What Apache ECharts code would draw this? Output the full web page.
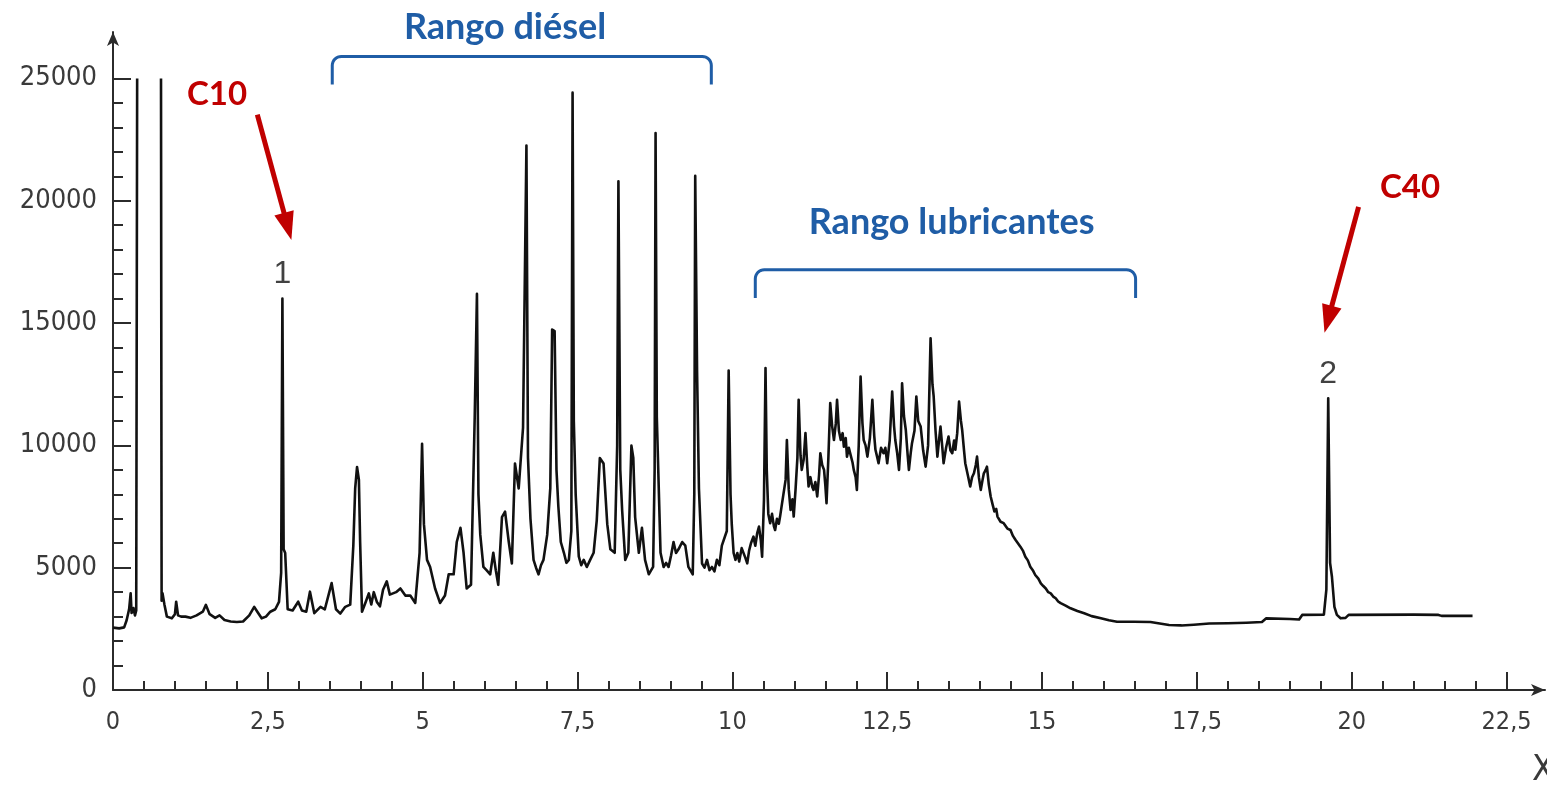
<!DOCTYPE html>
<html>
<head>
<meta charset="utf-8">
<script src="https://cdn.jsdelivr.net/npm/echarts@6/dist/echarts.min.js"></script>
<style>
  html, body { margin: 0; padding: 0; background: #fff; }
  #chart { width: 1547px; height: 785px; }
</style>
</head>
<body>
<div id="chart"></div>
<script>
// Retention time (min) and detector signal of the chromatogram trace.
// A '-' signal breaks the line where the solvent peak runs off scale.
const trace = [
  [0.00,2550],[0.10,2520],[0.18,2560],[0.22,2850],[0.26,3300],[0.285,3950],[0.30,3150],[0.33,3350],
  [0.355,3050],[0.375,3250],[0.39,25000],[0.58,'-'],[0.775,25000],[0.785,3650],[0.80,3950],[0.83,3500],
  [0.87,3000],[0.95,2930],[1.00,3100],[1.02,3610],[1.05,3050],[1.10,3000],[1.17,3000],[1.25,2950],
  [1.35,3050],[1.45,3200],[1.50,3480],[1.56,3100],[1.65,2950],[1.72,3050],[1.80,2860],[1.90,2800],
  [2.00,2780],[2.10,2800],[2.20,3050],[2.28,3400],[2.33,3200],[2.40,2930],[2.47,3000],[2.54,3200],
  [2.62,3300],[2.68,3600],[2.715,4800],[2.735,16000],[2.755,5750],[2.78,5600],[2.82,3300],[2.90,3250],
  [2.99,3610],[3.05,3250],[3.12,3200],[3.18,4020],[3.25,3140],[3.35,3400],[3.42,3300],[3.53,4370],
  [3.60,3300],[3.67,3125],[3.75,3400],[3.83,3490],[3.88,5900],[3.91,8240],[3.94,9115],[3.97,8600],
  [3.99,6050],[4.02,3200],[4.08,3600],[4.13,3950],[4.17,3500],[4.21,4000],[4.26,3600],[4.31,3420],
  [4.36,4100],[4.42,4440],[4.47,3900],[4.50,3860],[4.57,4000],[4.64,4150],[4.72,3860],[4.80,3860],
  [4.88,3560],[4.95,5610],[4.99,10070],[5.02,6780],[5.07,5320],[5.12,5030],[5.20,4150],[5.28,3560],
  [5.36,3860],[5.42,4730],[5.50,4730],[5.55,6050],[5.61,6630],[5.66,5610],[5.71,4150],[5.78,4300],
  [5.84,11160],[5.876,16200],[5.90,8000],[5.93,6340],[5.98,5030],[6.03,4900],[6.09,4730],[6.14,5610],
  [6.18,4900],[6.22,4300],[6.28,7070],[6.33,7290],[6.39,6050],[6.44,5170],[6.49,9260],[6.55,8240],
  [6.62,10720],[6.675,22260],[6.70,9500],[6.74,7000],[6.79,5320],[6.83,5000],[6.87,4730],[6.91,5100],
  [6.95,5320],[7.01,6340],[7.06,8240],[7.09,14740],[7.13,14670],[7.16,9000],[7.19,7510],[7.23,6050],
  [7.28,5610],[7.32,5200],[7.36,5320],[7.40,6500],[7.42,24420],[7.44,11000],[7.47,8000],[7.52,5460],
  [7.56,5100],[7.60,5320],[7.65,5030],[7.70,5300],[7.76,5610],[7.81,6920],[7.86,9480],[7.92,9260],
  [7.98,6780],[8.03,5750],[8.10,5610],[8.14,9990],[8.16,20800],[8.19,9000],[8.22,7360],[8.27,5320],
  [8.32,5610],[8.37,9990],[8.40,9500],[8.43,7070],[8.49,5610],[8.54,6630],[8.59,5320],[8.65,4730],
  [8.72,5030],[8.745,9000],[8.76,22770],[8.78,11160],[8.84,5610],[8.89,5030],[8.93,5200],[8.97,5030],
  [9.01,5500],[9.05,6050],[9.09,5600],[9.13,5750],[9.19,6050],[9.24,5900],[9.29,5030],[9.36,4730],
  [9.385,8000],[9.40,21020],[9.43,13000],[9.46,8240],[9.51,5170],[9.55,5000],[9.59,5320],[9.63,4900],
  [9.67,5030],[9.71,4850],[9.75,5320],[9.79,5100],[9.83,5900],[9.91,6500],[9.94,13060],[9.97,8000],
  [9.99,6780],[10.02,5600],[10.05,5320],[10.08,5600],[10.11,5250],[10.15,5800],[10.18,5730],[10.21,5400],
  [10.24,5180],[10.27,5700],[10.30,6000],[10.34,6270],[10.37,5900],[10.40,6400],[10.43,6680],[10.46,6100],
  [10.48,5450],[10.51,7770],[10.535,13160],[10.555,9000],[10.58,7200],[10.61,6820],[10.64,7200],[10.67,6700],
  [10.69,6540],[10.72,7000],[10.75,6800],[10.77,7090],[10.80,7600],[10.83,7640],[10.86,8600],[10.88,10220],
  [10.91,8200],[10.94,7360],[10.97,7800],[10.99,7090],[11.02,8200],[11.05,9500],[11.07,11860],[11.10,9600],
  [11.12,9000],[11.15,9400],[11.18,10500],[11.21,9100],[11.23,8320],[11.26,8700],[11.29,8300],[11.31,8180],
  [11.34,8500],[11.37,7910],[11.40,8800],[11.42,9680],[11.45,9200],[11.48,9000],[11.50,8400],[11.52,7640],
  [11.55,9500],[11.58,11730],[11.61,10800],[11.64,10220],[11.67,10900],[11.69,11860],[11.72,10600],[11.75,10220],
  [11.78,10500],[11.80,9950],[11.83,10300],[11.85,9540],[11.88,9900],[11.91,9820],[11.94,9300],[11.96,9000],
  [11.99,8700],[12.01,8180],[12.04,10000],[12.07,12810],[12.10,10900],[12.12,10220],[12.15,10000],[12.18,9540],
  [12.22,10300],[12.26,11860],[12.29,10400],[12.31,9820],[12.34,9500],[12.36,9270],[12.40,9900],[12.44,9680],
  [12.47,9900],[12.50,9270],[12.54,10200],[12.58,12200],[12.61,10800],[12.63,10220],[12.66,9700],[12.69,9000],
  [12.72,10300],[12.74,12540],[12.77,11200],[12.80,10630],[12.83,9600],[12.85,9000],[12.88,9700],[12.90,10090],
  [12.94,10600],[12.97,12000],[13.00,11000],[13.04,10770],[13.08,9800],[13.12,9130],[13.16,10000],[13.20,14380],
  [13.23,12500],[13.25,12000],[13.28,10600],[13.31,9540],[13.34,10300],[13.36,10770],[13.39,9900],[13.41,9270],
  [13.45,9900],[13.49,10360],[13.52,9800],[13.55,9680],[13.58,10200],[13.60,9820],[13.63,10500],[13.66,11790],
  [13.69,11000],[13.71,10630],[13.74,9800],[13.76,9270],[13.80,8800],[13.84,8320],[13.87,8700],[13.90,8860],
  [13.93,9200],[13.95,9540],[13.98,8700],[14.01,8180],[14.04,8600],[14.06,8860],[14.09,9000],[14.11,9130],
  [14.14,8400],[14.17,7910],[14.20,7600],[14.23,7300],[14.26,7400],[14.28,7090],[14.31,7100],[14.33,6880],
  [14.36,6950],[14.38,6820],[14.41,6850],[14.44,6600],[14.47,6650],[14.49,6540],[14.53,6300],[14.57,6140],
  [14.61,6000],[14.65,5860],[14.69,5700],[14.73,5450],[14.77,5300],[14.81,5040],[14.85,4900],[14.89,4700],
  [14.94,4550],[14.98,4360],[15.02,4250],[15.06,4150],[15.10,4000],[15.14,3950],[15.18,3820],[15.22,3750],
  [15.26,3620],[15.30,3550],[15.38,3450],[15.46,3340],[15.57,3230],[15.68,3140],[15.80,3020],[15.95,2930],
  [16.08,2850],[16.21,2790],[16.48,2790],[16.75,2780],[16.90,2720],[17.05,2660],[17.25,2640],[17.45,2670],
  [17.70,2720],[18.00,2730],[18.30,2750],[18.55,2780],[18.62,2930],[19.00,2900],[19.15,2880],[19.20,3070],
  [19.55,3080],[19.59,4100],[19.62,11930],[19.65,5200],[19.68,4630],[19.72,3400],[19.76,3070],[19.82,2930],
  [19.90,2950],[19.95,3070],[21.00,3080],[21.40,3070],[21.45,3030],[21.95,3030]
];

// Numbered reference peaks (retention time, signal at apex)
const peakNames = ['1', '2'];
const peakTimes = [2.735, 19.62];
const peakSignals = [16000, 11930];

// Axis tick values
const xMajorTicks = [0, 2.5, 5, 7.5, 10, 12.5, 15, 17.5, 20, 22.5];
const xMinorTicks = [];
for (let i = 1; i <= 45; i++) { if (i % 5 !== 0) xMinorTicks.push(i * 0.5); }
const yMajorTicks = [0, 5000, 10000, 15000, 20000, 25000];
const yMinorTicks = [];
for (let i = 1; i <= 24; i++) { if (i % 5 !== 0) yMinorTicks.push(i * 1000); }

const X_MAX = 23.12;
const Y_MAX = 26900;

const AXIS_COLOR = '#2b2b2b';
const LABEL_FONT = "'DejaVu Sans Condensed', 'Liberation Sans Narrow', 'DejaVu Sans', sans-serif";
const BLUE = '#1F5DA6';
const RED = '#C00000';

const chart = echarts.init(document.getElementById('chart'), null, { renderer: 'canvas' });

chart.setOption({
  animation: false,
  backgroundColor: '#ffffff',
  grid: { left: 113, right: 2, top: 32, bottom: 95 },
  xAxis: [
    {
      type: 'value', min: 0, max: X_MAX, position: 'bottom',
      axisLine: { show: true, lineStyle: { color: AXIS_COLOR, width: 2 }, symbol: ['none', 'arrow'], symbolSize: [9, 14] },
      axisTick: { show: true, inside: true, length: 18, lineStyle: { color: AXIS_COLOR, width: 2 }, customValues: xMajorTicks },
      axisLabel: {
        customValues: xMajorTicks, margin: 20, color: '#3a3a3a', fontSize: 25, fontFamily: LABEL_FONT,
        formatter: v => String(v).replace('.', ',')
      },
      splitLine: { show: false }
    },
    {
      type: 'value', min: 0, max: X_MAX, position: 'bottom',
      axisLine: { show: false },
      axisTick: { show: true, inside: true, length: 9, lineStyle: { color: AXIS_COLOR, width: 2 }, customValues: xMinorTicks },
      axisLabel: { show: false },
      splitLine: { show: false }
    }
  ],
  yAxis: [
    {
      type: 'value', min: 0, max: Y_MAX, position: 'left',
      axisLine: { show: true, lineStyle: { color: AXIS_COLOR, width: 2 }, symbol: ['none', 'arrow'], symbolSize: [9, 14] },
      axisTick: { show: true, inside: true, length: 18, lineStyle: { color: AXIS_COLOR, width: 2 }, customValues: yMajorTicks },
      axisLabel: {
        customValues: yMajorTicks, margin: 16, color: '#3a3a3a', fontSize: 27, fontFamily: LABEL_FONT,
        formatter: v => String(v)
      },
      splitLine: { show: false }
    },
    {
      type: 'value', min: 0, max: Y_MAX, position: 'left',
      axisLine: { show: false },
      axisTick: { show: true, inside: true, length: 10, lineStyle: { color: AXIS_COLOR, width: 2 }, customValues: yMinorTicks },
      axisLabel: { show: false },
      splitLine: { show: false }
    }
  ],
  series: [
    {
      name: 'Señal', type: 'line', xAxisIndex: 0, yAxisIndex: 0,
      data: trace, showSymbol: false, connectNulls: false, clip: false,
      lineStyle: { color: '#111111', width: 2.6, join: 'round' }
    },
    {
      name: 'Picos', type: 'scatter', xAxisIndex: 0, yAxisIndex: 0,
      data: peakTimes.map((t, i) => ({ value: [t, peakSignals[i]], name: peakNames[i] })),
      symbolSize: 0,
      label: {
        show: true, position: 'top', distance: 8, formatter: p => p.name,
        color: '#111', fontSize: 32, fontFamily: "'Liberation Sans', Arial, sans-serif"
      }
    }
  ]
});

// Annotations anchored in data coordinates: range brackets and the C10 / C40 markers
const ranges = [
  { text: 'Rango diésel', from: 3.54, to: 9.66, level: 25900, drop: 24750, textAt: [6.33, 27080] },
  { text: 'Rango lubricantes', from: 10.37, to: 16.51, level: 17180, drop: 16030, textAt: [13.54, 19100] }
];
const markers = [
  { text: 'C10', textAt: [1.68, 24340], from: [2.33, 23520], to: [2.88, 18400] },
  { text: 'C40', textAt: [20.94, 20530], from: [20.11, 19750], to: [19.56, 14600] }
];

const toPx = p => chart.convertToPixel({ gridIndex: 0 }, p);
const graphics = [];

// Bracket outline: vertical ends joined by a top bar with rounded corners
function bracketPoints(x1, x2, yTop, yBottom, rad) {
  const pts = [[x1, yBottom], [x1, yTop + rad]];
  for (let k = 1; k <= 8; k++) {
    const a = Math.PI - (k / 8) * (Math.PI / 2);
    pts.push([x1 + rad + rad * Math.cos(a), yTop + rad - rad * Math.sin(a)]);
  }
  pts.push([x2 - rad, yTop]);
  for (let k = 1; k <= 8; k++) {
    const a = Math.PI / 2 - (k / 8) * (Math.PI / 2);
    pts.push([x2 - rad + rad * Math.cos(a), yTop + rad - rad * Math.sin(a)]);
  }
  pts.push([x2, yBottom]);
  return pts;
}

ranges.forEach(r => {
  const a = toPx([r.from, r.level]);
  const b = toPx([r.to, r.level]);
  const yb = toPx([r.from, r.drop])[1];
  const t = toPx(r.textAt);
  graphics.push({
    type: 'polyline',
    shape: { points: bracketPoints(a[0], b[0], a[1], yb, 9) },
    style: { stroke: BLUE, lineWidth: 3, fill: null }
  });
  graphics.push({
    type: 'text', x: t[0], y: t[1],
    style: { text: r.text, fill: BLUE, fontSize: 36, fontWeight: 'bold', fontFamily: 'Lato, "Open Sans", sans-serif', align: 'center', verticalAlign: 'middle' }
  });
});

markers.forEach(m => {
  const t = toPx(m.textAt);
  const p0 = toPx(m.from);
  const p1 = toPx(m.to);
  const dx = p1[0] - p0[0], dy = p1[1] - p0[1];
  const len = Math.hypot(dx, dy);
  const ux = dx / len, uy = dy / len;
  const nx = -uy, ny = ux;
  const headL = 28, headW = 20;
  const bx = p1[0] - ux * headL, by = p1[1] - uy * headL;
  graphics.push({
    type: 'line',
    shape: { x1: p0[0], y1: p0[1], x2: bx + ux * 2, y2: by + uy * 2 },
    style: { stroke: RED, lineWidth: 5 }
  });
  graphics.push({
    type: 'polygon',
    shape: { points: [[p1[0], p1[1]], [bx + nx * headW / 2, by + ny * headW / 2], [bx - nx * headW / 2, by - ny * headW / 2]] },
    style: { fill: RED }
  });
  graphics.push({
    type: 'text', x: t[0], y: t[1],
    style: { text: m.text, fill: RED, fontSize: 33, fontWeight: 'bold', fontFamily: 'Lato, "Open Sans", sans-serif', align: 'center', verticalAlign: 'middle' }
  });
});

// Axis name in the lower right corner
graphics.push({
  type: 'text', x: 1532, y: 771,
  style: { text: 'X', fill: '#3a3a3a', fontSize: 36, fontFamily: LABEL_FONT, align: 'left', verticalAlign: 'middle' }
});

chart.setOption({ graphic: graphics });
</script>
</body>
</html>
